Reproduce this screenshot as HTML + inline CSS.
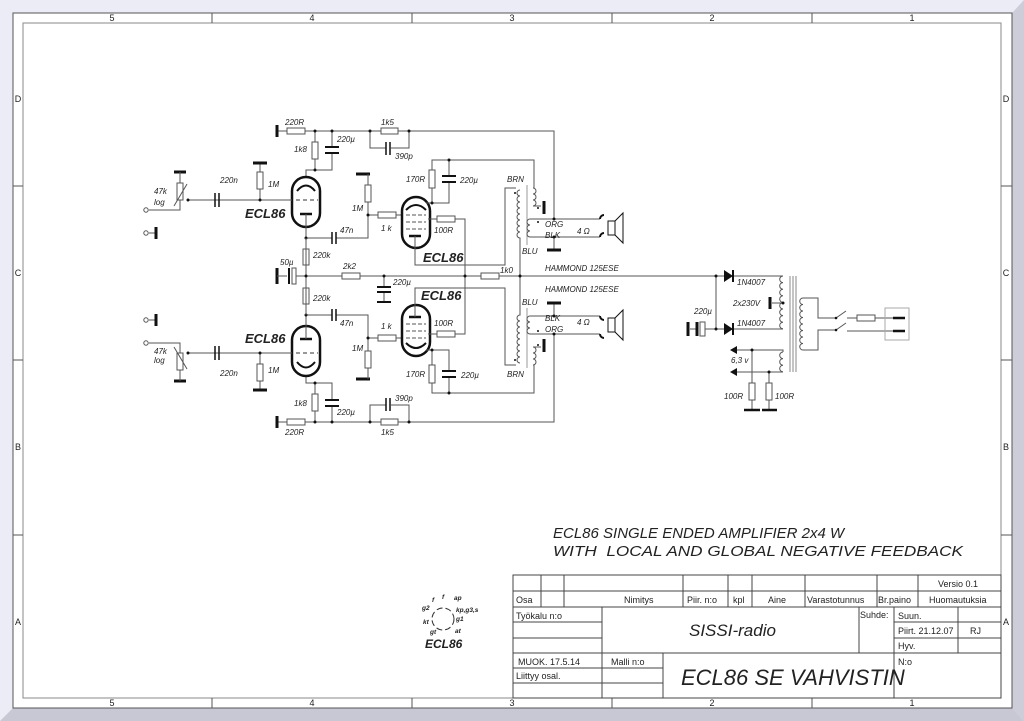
<!DOCTYPE html>
<html><head><meta charset="utf-8"><style>
html,body{margin:0;padding:0;background:#fff}
svg{display:block}
text{font-family:"Liberation Sans",sans-serif;fill:#222}
.l{font-size:8px;font-style:italic;fill:#333}
.t{font-size:9px;fill:#333}
.bt{font-size:13px;font-weight:bold;font-style:italic;fill:#111}
</style></head><body>
<svg width="1024" height="721" viewBox="0 0 1024 721" xmlns="http://www.w3.org/2000/svg">
<defs>
<g id="up" fill="none" stroke="#555" stroke-width="1">
 <path d="M277,131H554V219"/>
 <path d="M277,125V137" stroke="#111" stroke-width="3"/>
 <rect x="287" y="128" width="18" height="6" fill="#fff"/>
 <rect x="381" y="128" width="17" height="6" fill="#fff"/>
 <path d="M315,131V170M332,131V147M332,153V170H306V177"/>
 <rect x="312" y="142" width="6" height="17" fill="#fff"/>
 <path d="M325,147H339M325,153H339" stroke="#111" stroke-width="2"/>
 <path d="M370,131V148H386M391,148H409V131"/>
 <path d="M386,142V155M390,142V155" stroke="#111" stroke-width="1.5"/>
 <rect x="292" y="177" width="28" height="50" rx="14" stroke="#111" stroke-width="2.5"/>
 <path d="M297,191Q306,180 315,191" stroke="#111" stroke-width="2"/>
 <path d="M296,200H318" stroke="#333" stroke-dasharray="4,3"/>
 <path d="M300,214H312" stroke="#111" stroke-width="2.5"/>
 <path d="M306,214V276"/>
 <rect x="303" y="249" width="6" height="16" fill="#fff"/>
 <path d="M188,200H292M260,200V163"/>
 <path d="M215,193V207M219,193V207" stroke="#111" stroke-width="1.5"/>
 <rect x="257" y="172" width="6" height="17" fill="#fff"/>
 <path d="M253,163H267M174,172H186M356,174H370" stroke="#111" stroke-width="3"/>
 <path d="M180,172V183M180,200V210H149"/>
 <rect x="177" y="183" width="6" height="17" fill="#fff"/>
 <path d="M174,206L187,184"/>
 <circle cx="146" cy="210" r="2.2" fill="#fff"/>
 <circle cx="146" cy="233" r="2.2" fill="#fff"/>
 <path d="M149,233H155"/>
 <path d="M156,227V239" stroke="#111" stroke-width="3"/>
 <path d="M306,238H332M336,238H368V174M368,215H402"/>
 <path d="M332,232V244M336,232V244" stroke="#111" stroke-width="1.5"/>
 <rect x="365" y="185" width="6" height="17" fill="#fff"/>
 <rect x="378" y="212" width="18" height="6" fill="#fff"/>
 <rect x="402" y="197" width="28" height="51" rx="14" stroke="#111" stroke-width="2.5"/>
 <path d="M406,210Q416,200 426,210" stroke="#111" stroke-width="2"/>
 <path d="M406,215H426M406,222H426M406,229H426" stroke="#555" stroke-dasharray="4,2"/>
 <path d="M409,236H421" stroke="#111" stroke-width="2.5"/>
 <path d="M415,236V265H505V188H516"/>
 <path d="M426,203H449V182M449,176V160M432,203V160H534V188"/>
 <rect x="429" y="170" width="6" height="18" fill="#fff"/>
 <path d="M442,176H456M442,182H456" stroke="#111" stroke-width="2"/>
 <path d="M428,219H465V276"/>
 <rect x="437" y="216" width="18" height="6" fill="#fff"/>
 <path d="M520,190a3,3 0 0 0 0,6a3,3 0 0 0 0,6a3,3 0 0 0 0,6a3,3 0 0 0 0,6a3,3 0 0 0 0,6a3,3 0 0 0 0,6a3,3 0 0 0 0,6a3,3 0 0 0 0,6V276"/>
 <path d="M527,185V245" stroke="#999"/>
 <path d="M533,188a3,3 0 0 1 0,6a3,3 0 0 1 0,6a3,3 0 0 1 0,6H541"/>
 <path d="M544,201V214" stroke="#111" stroke-width="3"/>
 <path d="M554,219H530a3,3 0 0 0 0,6a3,3 0 0 0 0,6a3,3 0 0 0 0,6H600M554,237V250"/>
 <path d="M547,250H561" stroke="#111" stroke-width="3"/>
 <path d="M554,219H600"/>
 <path d="M604,215a4,4 0 0 0 -4,4M604,233a4,4 0 0 0 -4,4" stroke="#111" stroke-width="2"/>
 <rect x="608" y="221" width="7" height="14" stroke="#111"/>
 <path d="M615,221L623,213V243L615,235" stroke="#111"/>
 <g fill="#111" stroke="none">
  <circle cx="315" cy="131" r="1.5"/><circle cx="332" cy="131" r="1.5"/><circle cx="370" cy="131" r="1.5"/><circle cx="409" cy="131" r="1.5"/>
  <circle cx="315" cy="170" r="1.5"/><circle cx="260" cy="200" r="1.5"/><circle cx="188" cy="200" r="1.5"/>
  <circle cx="306" cy="238" r="1.5"/><circle cx="368" cy="215" r="1.5"/><circle cx="432" cy="203" r="1.5"/><circle cx="449" cy="160" r="1.5"/>
  <circle cx="554" cy="219" r="1.5"/><circle cx="554" cy="237" r="1.5"/><circle cx="515" cy="193" r="1"/><circle cx="538" cy="208" r="1"/><circle cx="538" cy="222" r="1"/>
 </g>
</g>
</defs>
<rect width="1024" height="721" fill="#ececf6"/>
<polygon points="1012,13 1024,0 1024,721 1012,708" fill="#cdcdd9"/>
<polygon points="13,708 1012,708 1024,721 0,721" fill="#c8c8d4"/>
<rect x="13" y="13" width="999" height="695" fill="#fff" stroke="#555"/>
<rect x="23" y="23" width="978" height="675" fill="none" stroke="#888"/>
<g stroke="#555"><path d="M212,13V23M412,13V23M612,13V23M812,13V23M212,698V708M412,698V708M612,698V708M812,698V708M13,186H23M13,360H23M13,535H23M1001,186H1012M1001,360H1012M1001,535H1012"/></g>
<g class="t" text-anchor="middle">
<text x="112" y="21">5</text><text x="312" y="21">4</text><text x="512" y="21">3</text><text x="712" y="21">2</text><text x="912" y="21">1</text>
<text x="112" y="706">5</text><text x="312" y="706">4</text><text x="512" y="706">3</text><text x="712" y="706">2</text><text x="912" y="706">1</text>
<text x="18" y="102">D</text><text x="18" y="276">C</text><text x="18" y="450">B</text><text x="18" y="625">A</text>
<text x="1006" y="102">D</text><text x="1006" y="276">C</text><text x="1006" y="450">B</text><text x="1006" y="625">A</text>
</g>
<use href="#up"/>
<use href="#up" transform="matrix(1,0,0,-1,0,553)"/>
<g fill="none" stroke="#555">
 <path d="M296,276H730M306,238V315"/>
 <path d="M277,268V284" stroke="#111" stroke-width="3"/>
 <path d="M277,276H287"/>
 <path d="M289,268V284" stroke="#111" stroke-width="2"/>
 <rect x="292" y="268" width="4" height="16"/>
 <rect x="342" y="273" width="18" height="6" fill="#fff"/>
 <rect x="481" y="273" width="18" height="6" fill="#fff"/>
 <path d="M384,276V287M384,292V302"/>
 <path d="M377,287H391M377,292H391M377,302H391" stroke="#111" stroke-width="2"/>
 <path d="M716,276V329H733M716,329H705M697,329H690"/>
 <path d="M688,322V336M697,322V336" stroke="#111" stroke-width="3"/>
 <rect x="700" y="322" width="5" height="14"/>
 <path d="M730,276H783M733,329H783"/>
 <path d="M733,270V282M733,323V335" stroke="#111" stroke-width="2"/>
 <path d="M733,276L724,270V282ZM733,329L724,323V335Z" fill="#111" stroke="none"/>
 <path d="M783,276a3,3 0 0 0 0,6.6a3,3 0 0 0 0,6.6a3,3 0 0 0 0,6.6a3,3 0 0 0 0,6.6a3,3 0 0 0 0,6.6a3,3 0 0 0 0,6.6a3,3 0 0 0 0,6.6a3,3 0 0 0 0,6.6"/>
 <path d="M772,303H783"/>
 <path d="M770,297V309" stroke="#111" stroke-width="3"/>
 <path d="M790,276V372M793,276V372M796,276V372" stroke="#888"/>
 <path d="M803,298a3,3 0 0 0 0,6.5a3,3 0 0 0 0,6.5a3,3 0 0 0 0,6.5a3,3 0 0 0 0,6.5a3,3 0 0 0 0,6.5a3,3 0 0 0 0,6.5a3,3 0 0 0 0,6.5a3,3 0 0 0 0,6.5"/>
 <path d="M803,298H818V318H836M803,350H818V330H836"/>
 <path d="M836,318L846,311M836,330L846,323M847,318H857M875,318H895M847,331H895"/>
 <rect x="857" y="315" width="18" height="6" fill="#fff"/>
 <rect x="885" y="308" width="24" height="32" stroke="#aaa"/>
 <path d="M893,318H905M893,331H905" stroke="#111" stroke-width="2.5"/>
 <path d="M783,352a3,3 0 0 0 0,6.6a3,3 0 0 0 0,6.6a3,3 0 0 0 0,6.6M783,352V350H735M783,372H735"/>
 <path d="M730,350L737,346V354ZM730,372L737,368V376Z" fill="#111" stroke="none"/>
 <path d="M752,350V410M769,372V410"/>
 <rect x="749" y="383" width="6" height="17" fill="#fff"/>
 <rect x="766" y="383" width="6" height="17" fill="#fff"/>
 <path d="M744,410H760M762,410H777" stroke="#111" stroke-width="2.5"/>
</g>
<g fill="#111">
<circle cx="306" cy="276" r="1.5"/><circle cx="384" cy="276" r="1.5"/><circle cx="465" cy="276" r="1.5"/><circle cx="520" cy="276" r="1.5"/><circle cx="716" cy="276" r="1.5"/><circle cx="716" cy="329" r="1.5"/><circle cx="783" cy="303" r="1.5"/><circle cx="752" cy="350" r="1.5"/><circle cx="769" cy="372" r="1.5"/><circle cx="836" cy="318" r="1.3"/><circle cx="836" cy="330" r="1.3"/>
</g>
<g class="l">
<text x="285" y="125">220R</text><text x="381" y="125">1k5</text><text x="337" y="142">220µ</text><text x="294" y="152">1k8</text><text x="395" y="159">390p</text>
<text x="154" y="194">47k</text><text x="154" y="205">log</text><text x="220" y="183">220n</text><text x="268" y="187">1M</text>
<text x="352" y="211">1M</text><text x="381" y="231">1 k</text><text x="340" y="233">47n</text><text x="406" y="182">170R</text><text x="460" y="183">220µ</text><text x="434" y="233">100R</text>
<text x="507" y="182">BRN</text><text x="522" y="254">BLU</text><text x="545" y="227">ORG</text><text x="545" y="238">BLK</text><text x="577" y="234">4 Ω</text>
<text x="280" y="265">50µ</text><text x="343" y="269">2k2</text><text x="393" y="285">220µ</text><text x="313" y="258">220k</text><text x="500" y="273">1k0</text>
<text x="545" y="271">HAMMOND 125ESE</text><text x="545" y="292">HAMMOND 125ESE</text><text x="313" y="301">220k</text>
<text x="522" y="305">BLU</text><text x="545" y="321">BLK</text><text x="545" y="332">ORG</text><text x="577" y="325">4 Ω</text>
<text x="340" y="326">47n</text><text x="381" y="329">1 k</text><text x="434" y="326">100R</text><text x="352" y="351">1M</text><text x="406" y="377">170R</text><text x="461" y="378">220µ</text><text x="507" y="377">BRN</text>
<text x="154" y="354">47k</text><text x="154" y="363">log</text><text x="220" y="376">220n</text><text x="268" y="373">1M</text>
<text x="294" y="406">1k8</text><text x="337" y="415">220µ</text><text x="395" y="401">390p</text><text x="285" y="435">220R</text><text x="381" y="435">1k5</text>
<text x="737" y="285">1N4007</text><text x="733" y="306">2x230V</text><text x="694" y="314">220µ</text><text x="737" y="326">1N4007</text><text x="731" y="363">6,3 v</text><text x="724" y="399">100R</text><text x="775" y="399">100R</text>
</g>
<g class="bt"><text x="245" y="218">ECL86</text><text x="423" y="262">ECL86</text><text x="421" y="300">ECL86</text><text x="245" y="343">ECL86</text></g>
<g font-size="15" font-style="italic" fill="#222"><text x="553" y="538">ECL86 SINGLE ENDED AMPLIFIER 2x4 W</text><text x="553" y="556" xml:space="preserve" style="white-space:pre" textLength="410" lengthAdjust="spacingAndGlyphs">WITH  LOCAL AND GLOBAL NEGATIVE FEEDBACK</text></g>
<circle cx="443" cy="619" r="11" fill="none" stroke="#333" stroke-dasharray="6,3"/>
<g font-size="6.5" font-style="italic" font-weight="bold" fill="#333"><text x="442" y="599">f</text><text x="454" y="600">ap</text><text x="432" y="602">f</text><text x="422" y="610">g2</text><text x="456" y="612">kp,g3,s</text><text x="456" y="621">g1</text><text x="423" y="624">kt</text><text x="430" y="634">gt</text><text x="455" y="633">at</text></g>
<text x="425" y="648" font-size="12" font-weight="bold" font-style="italic" fill="#111">ECL86</text>
<g stroke="#444" fill="none">
<rect x="513" y="575" width="488" height="123"/>
<path d="M513,591H1001M513,607H1001M513,622H602M513,638H602M894,622H1001M894,638H1001M513,653H1001M513,668H663M513,683H663"/>
<path d="M541,575V607M564,575V607M683,575V607M728,575V607M752,575V607M805,575V607M877,575V607M918,575V607M602,607V698M663,653V698M859,607V653M894,607V698M958,607V653"/>
</g>
<g font-size="9" fill="#222">
<text x="958" y="587" text-anchor="middle">Versio 0.1</text>
<text x="516" y="603">Osa</text><text x="624" y="603">Nimitys</text><text x="687" y="603">Piir. n:o</text><text x="733" y="603">kpl</text><text x="768" y="603">Aine</text><text x="807" y="603">Varastotunnus</text><text x="878" y="603">Br.paino</text><text x="929" y="603">Huomautuksia</text>
<text x="516" y="619">Työkalu n:o</text><text x="860" y="618">Suhde:</text><text x="898" y="619">Suun.</text><text x="898" y="634">Piirt. 21.12.07</text><text x="970" y="634">RJ</text><text x="898" y="649">Hyv.</text>
<text x="518" y="665">MUOK. 17.5.14</text><text x="611" y="665">Malli n:o</text><text x="898" y="665">N:o</text><text x="516" y="679">Liittyy osal.</text>
</g>
<text x="689" y="636" font-size="17" font-style="italic" fill="#222">SISSI-radio</text>
<text x="681" y="685" font-size="22" font-style="italic" fill="#222">ECL86 SE VAHVISTIN</text>
</svg>
</body></html>
